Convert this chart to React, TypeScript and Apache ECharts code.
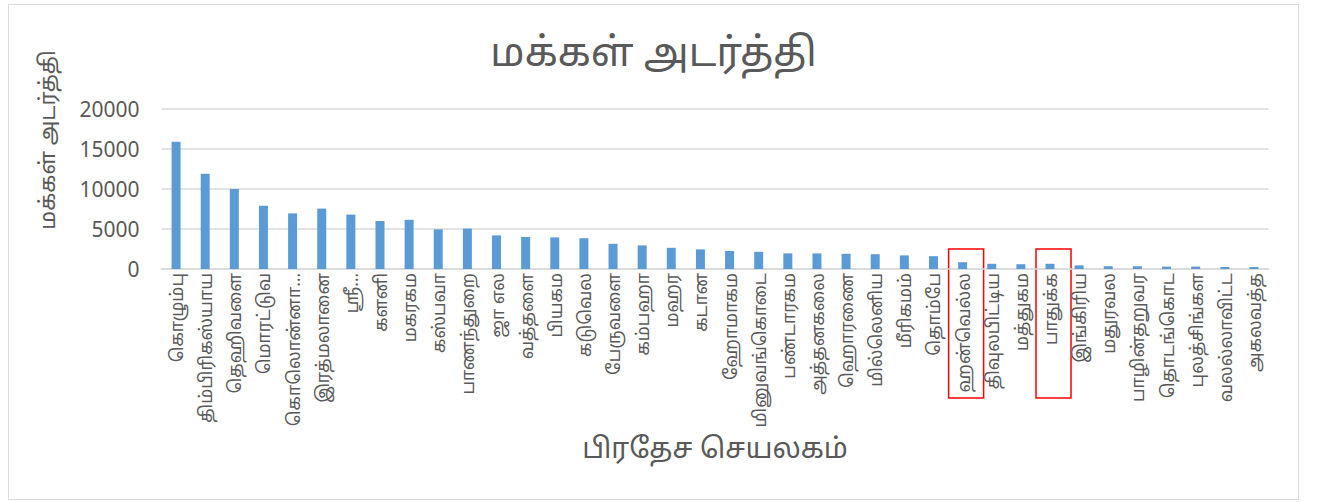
import React, { useEffect, useRef } from "react";
import * as echarts from "echarts";

const titleText = "மக்கள் அடர்த்தி";
const yAxisTitle = "மக்கள் அடர்த்தி";
const xAxisTitle = "பிரதேச செயலகம்";

const categories = [
  "கொழும்பு",
  "திம்பிரிகஸ்யாய",
  "தெஹிவளை",
  "மொரட்டுவ",
  "கொலொன்னா…",
  "இரத்மலானை",
  "ஸ்ரீ…",
  "களனி",
  "மகரகம",
  "கஸ்பவா",
  "பாணந்துறை",
  "ஜா எல",
  "வத்தளை",
  "பியகம",
  "கடுவெல",
  "பேருவளை",
  "கம்பஹா",
  "மஹர",
  "கடான",
  "ஹோமாகம",
  "மினுவங்கொடை",
  "பண்டாரகம",
  "அத்தனகலை",
  "ஹொரணை",
  "மில்லெனிய",
  "மீரிகமம்",
  "தொம்பே",
  "ஹன்வெல்ல",
  "திவுலபிட்டிய",
  "மத்துகம",
  "பாதுக்க",
  "இங்கிரிய",
  "மதுரவல",
  "பாழின்தறுவர",
  "தொடங்கொட",
  "புலத்சிங்கள",
  "வலல்லாவிட்ட",
  "அகலவத்த",
];

const density = [
  15900, 11900, 10000, 7900, 6950, 7550, 6800, 6000, 6150, 4950, 5050, 4200,
  4000, 3950, 3850, 3150, 2950, 2650, 2450, 2250, 2150, 1950, 1950, 1900, 1850,
  1700, 1600, 850, 650, 600, 650, 450, 350, 350, 300, 300, 250, 250,
];

const yTicks = [0, 5000, 10000, 15000, 20000];
const highlighted = ["ஹன்வெல்ல", "பாதுக்க"];

const FONT = "'Noto Sans', 'Noto Sans Tamil', sans-serif";
const TEXT = "#595959";

export default function App() {
  const ref = useRef<HTMLDivElement>(null);
  useEffect(() => {
    if (!ref.current) return;
    const chart = echarts.init(ref.current, null, { renderer: "svg" });
    chart.setOption({
      animation: false,
      backgroundColor: "#ffffff",
      title: {
        text: titleText,
        left: "center",
        top: 20,
        textStyle: { fontFamily: FONT, fontSize: 40, fontWeight: "normal", color: TEXT },
      },
      grid: { left: 152.5, right: 29.5, top: 104, bottom: 230, containLabel: false },
      xAxis: {
        type: "category",
        data: categories,
        name: xAxisTitle,
        nameLocation: "middle",
        nameGap: 164,
        nameTextStyle: { fontFamily: FONT, fontSize: 28, color: TEXT },
        axisLine: { show: true, lineStyle: { color: "#d9d9d9", width: 1.5 } },
        axisTick: { show: false },
        axisLabel: {
          rotate: 90,
          interval: 0,
          margin: 4,
          fontFamily: FONT,
          fontSize: 17.5,
          color: TEXT,
        },
      },
      yAxis: {
        type: "value",
        min: yTicks[0],
        max: yTicks[yTicks.length - 1],
        interval: yTicks[1] - yTicks[0],
        axisLine: { show: false },
        axisTick: { show: false },
        splitLine: { show: true, lineStyle: { color: "#d9d9d9", width: 1.5 } },
        axisLabel: {
          margin: 22,
          fontFamily: FONT,
          fontSize: 21,
          color: TEXT,
          formatter: (v: number) => String(v),
        },
      },
      series: [
        {
          type: "bar",
          data: density,
          barWidth: 9,
          itemStyle: { color: "#5b9bd5" },
        },
      ],
    });

    const graphics: any[] = [
      {
        type: "text",
        x: 37,
        y: 135,
        rotation: Math.PI / 2,
        style: {
          text: yAxisTitle,
          fontFamily: FONT,
          fontSize: 22,
          fill: TEXT,
          align: "center",
          verticalAlign: "middle",
        },
      },
    ];
    highlighted.forEach((name) => {
      const idx = categories.indexOf(name);
      const px = chart.convertToPixel({ xAxisIndex: 0 }, idx) as number;
      graphics.push({
        type: "rect",
        shape: { x: px - 14, y: 244, width: 35, height: 149 },
        style: { fill: "none", stroke: "#ff0000", lineWidth: 1.5 },
      });
    });
    chart.setOption({ graphic: graphics });

    return () => chart.dispose();
  }, []);

  return (
    <div
      style={{
        position: "absolute",
        left: 8,
        top: 4,
        width: 1289,
        height: 494,
        border: "1px solid #d9d9d9",
        background: "#fff",
      }}
    >
      <div ref={ref} style={{ width: "100%", height: "100%" }} />
    </div>
  );
}
